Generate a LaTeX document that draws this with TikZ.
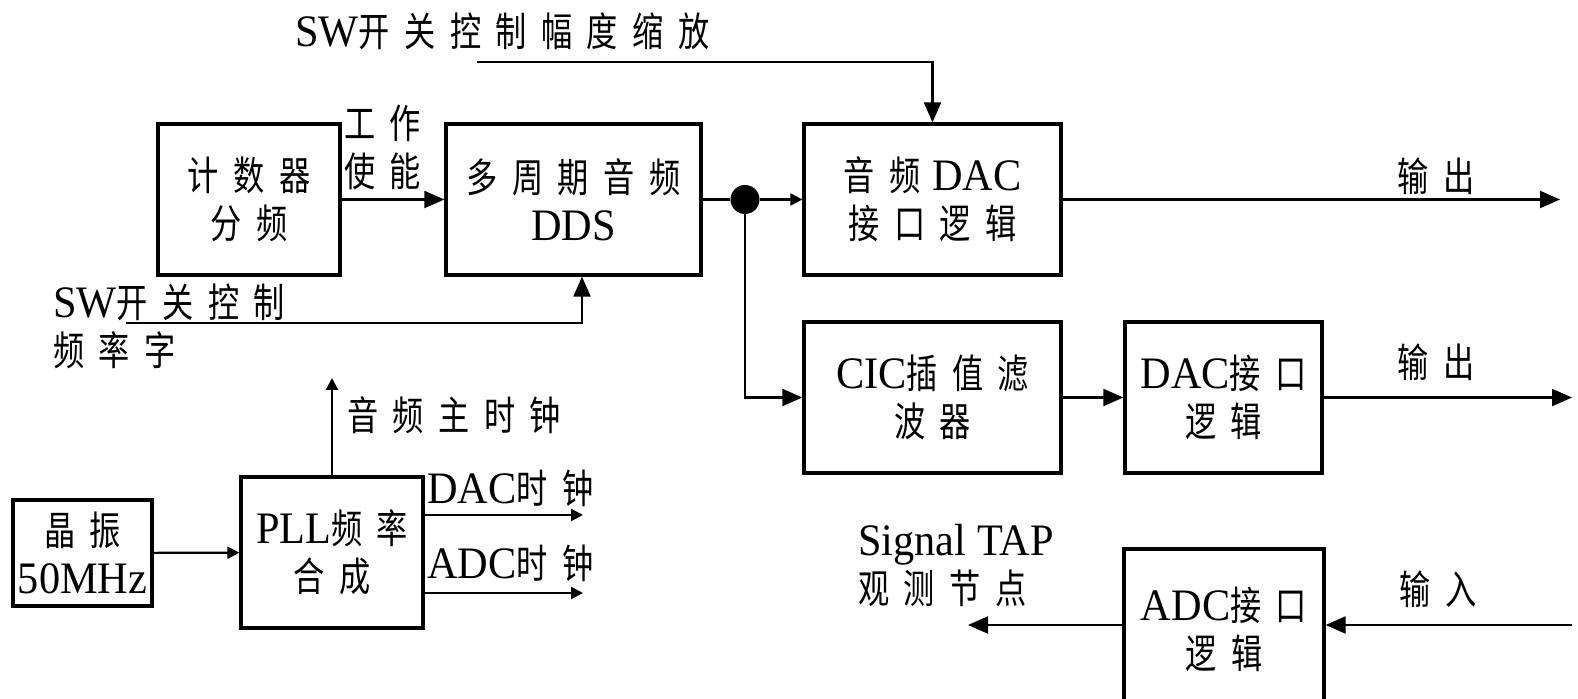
\documentclass[tikz,border=0pt]{standalone}
\usepackage{fontspec}
\setmainfont[FakeStretch=0.94]{Liberation Serif}
\newfontfamily\cjk[FakeStretch=0.78,LetterSpace=36]{Noto Sans CJK SC}
\newcommand{\zh}[1]{{\cjk\fontsize{20pt}{24pt}\selectfont #1}}
\usetikzlibrary{arrows.meta,positioning,calc}

\begin{document}
\begin{tikzpicture}[x=0.5pt,y=-0.5pt,
	box/.style={draw,line width=1.65pt,minimum height=75.5pt,inner sep=0pt,align=center,font=\fontsize{22.5pt}{24pt}\selectfont},
	lbl/.style={inner sep=0pt,anchor=west,align=left,font=\fontsize{22.5pt}{24pt}\selectfont},
	conn/.style={line width=1.1pt},
	bigarr/.style={conn,-{Triangle[length=10pt,width=8.5pt]}},
	smallarr/.style={conn,-{Triangle[length=6pt,width=6pt]}}]
				 %\draw[color=gray,step=10,help lines,opacity=0.3] (0,0) grid (1578,699); %help grids
				 \useasboundingbox (0,0) rectangle (1578,699);
				 \clip (0,0) rectangle (1578,699);
				 % blocks
				 \node[box,minimum width=91pt] (cnt) at (249,199.5) {\zh{计数器}\\\zh{分频}};
				 \node[box,minimum width=127.5pt] (dds) at (573.5,199.5) {\zh{多周期音频}\\DDS};
				 \node[box,minimum width=128.5pt] (dac) at (932.5,199.5) {\zh{音频}\hspace{6pt}DAC\\\zh{接口逻辑}};
				 \node[box,minimum width=128.5pt] (cic) at (932.5,397.5) {CIC\zh{插值滤}\\\zh{波器}};
				 \node[box,minimum width=98.5pt] (dacb) at (1223.5,397.5) {DAC\zh{接口}\\\zh{逻辑}};
				 \node[box,minimum width=100pt,minimum height=80pt] (adc) at (1224,629) {ADC\zh{接口}\\\zh{逻辑}};
				 \node[box,minimum width=91pt] (pll) at (332,552.5) {PLL\zh{频率}\\\zh{合成}};
				 \node[box,minimum width=69.5pt,minimum height=53pt] (osc) at (82.5,553) {\zh{晶振}\\50MHz};
				 \node[circle,fill,inner sep=0pt,minimum size=14.5pt] (jn) at (745,199.5) {};
				 % free ends
				 \coordinate (swa) at (477,62);
				 \coordinate (swf) at (126,323);
				 \coordinate (outa) at (1560,199.5);
				 \coordinate (outb) at (1572,397.5);
				 \coordinate (ina) at (1572,625);
				 \coordinate (tap) at (968,625);
				 \coordinate (mclk) at (332,378);
				 \coordinate (dclk) at (583,515);
				 \coordinate (aclk) at (583,593);
				 % lines...
				 \draw[bigarr] (cnt) -- (dds);
				 \draw[conn] (dds) -- (jn);
				 \draw[smallarr] (jn) -- (dac);
				 \draw[bigarr] (dac) -- (outa);
				 \draw[bigarr] (jn) |- (cic);
				 \draw[bigarr] (cic) -- (dacb);
				 \draw[bigarr] (dacb) -- (outb);
				 \draw[bigarr] (swa) -| (dac);
				 \draw[bigarr] (swf) -| ([xshift=4.25pt]dds.south);
				 \draw[smallarr] (osc) -- (pll);
				 \draw[smallarr] (pll) -- (mclk);
				 \draw[smallarr] (pll.east |- dclk) -- (dclk);
				 \draw[smallarr] (pll.east |- aclk) -- (aclk);
				 \draw[bigarr] (adc.west |- tap) -- (tap);
				 \draw[bigarr] (ina) -- (adc.east |- ina);
				 % labels
				 \node[lbl] (swamp) at (295,31) {SW\zh{开关控制幅度缩放}};
				 \node[lbl] (en) at (344,147) {\zh{工作}\\\zh{使能}};
				 \node[lbl] (swfreq) at (53,326) {SW\zh{开关控制}\\\zh{频率字}};
				 \node[lbl] (outla) at (1397,176) {\zh{输出}};
				 \node[lbl] (outlb) at (1397,362) {\zh{输出}};
				 \node[lbl] (inl) at (1399,589) {\zh{输入}};
				 \node[lbl] (tapl) at (858,565) {Signal TAP\\\zh{观测节点}};
				 \node[lbl] (mclkl) at (347,415) {\zh{音频主时钟}};
				 \node[lbl] (dclkl) at (427,488) {DAC\zh{时钟}};
				 \node[lbl] (aclkl) at (427,563) {ADC\zh{时钟}};
\end{tikzpicture}
\end{document}
